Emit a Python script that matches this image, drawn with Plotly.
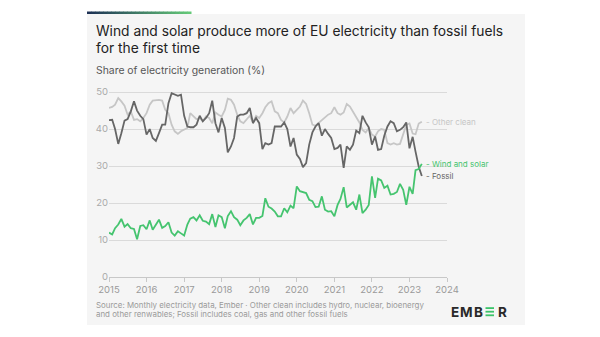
import pandas as pd
import plotly.graph_objects as go

# ---------------- data (monthly, Jan 2015 - May 2023, % of EU generation) ----------------
wind_solar = [
    12.0, 11.5, 13.2, 14.2, 15.7, 13.6, 14.3, 13.2, 13.0, 10.2, 13.8, 14.0,   # 2015
    12.9, 15.3, 12.8, 14.0, 15.5, 13.3, 13.8, 14.8, 12.0, 11.2, 12.4, 11.8,   # 2016
    11.2, 14.2, 15.8, 16.2, 15.3, 16.7, 15.2, 15.0, 14.3, 17.0, 13.5, 16.7,   # 2017
    16.2, 13.2, 16.5, 17.8, 16.2, 15.5, 14.0, 15.3, 16.0, 17.0, 14.2, 16.0,   # 2018
    16.0, 16.5, 21.3, 19.0, 18.5, 17.7, 16.4, 16.4, 18.6, 17.5, 19.3, 18.6,   # 2019
    24.5, 23.2, 22.9, 22.7, 20.9, 20.5, 18.9, 19.0, 21.8, 18.2, 17.7, 17.8,   # 2020
    16.4, 19.5, 21.1, 24.3, 18.8, 19.5, 20.2, 18.2, 22.3, 17.3, 18.2, 19.5,   # 2021
    27.2, 21.4, 26.6, 26.1, 24.1, 24.7, 22.3, 22.5, 23.0, 25.2, 23.6, 19.5,   # 2022
    24.4, 22.5, 28.9, 29.2, 30.6,                                             # 2023
]
fossil = [
    42.4, 42.5, 40.0, 36.0, 38.9, 42.3, 42.7, 44.8, 47.5, 45.0, 43.6, 42.7,
    38.5, 40.0, 37.6, 36.8, 38.9, 41.2, 41.2, 47.0, 49.7, 49.3, 49.0, 49.3,
    43.6, 40.7, 40.5, 40.5, 41.2, 43.6, 42.1, 43.0, 44.3, 47.7, 41.6, 39.1,
    43.0, 40.3, 33.7, 35.3, 37.6, 43.4, 43.9, 43.9, 44.3, 45.7, 41.6, 43.0,
    41.6, 34.6, 36.2, 35.8, 36.2, 40.7, 40.7, 40.7, 41.8, 40.0, 35.3, 37.6,
    33.1, 31.9, 29.7, 30.8, 35.8, 39.1, 40.7, 41.6, 38.2, 40.0, 38.7, 37.6,
    34.6, 34.9, 35.8, 29.5, 35.3, 34.4, 35.8, 39.6, 38.9, 43.6, 41.8, 40.5,
    35.8, 38.0, 34.4, 34.6, 38.2, 40.7, 42.1, 41.6, 39.4, 39.8, 40.5, 41.8,
    34.8, 37.9, 33.9, 29.8, 27.3,
]
other_clean = [
    45.7, 46.0, 46.6, 48.4, 47.5, 46.3, 43.9, 44.8, 42.5, 42.7, 42.1, 43.0,
    44.3, 46.6, 47.7, 47.9, 47.9, 47.7, 45.2, 44.3, 41.2, 39.4, 38.7, 39.4,
    39.8, 40.3, 44.3, 43.4, 42.7, 43.0, 42.1, 43.4, 43.0, 41.6, 44.5, 43.9,
    43.4, 45.2, 48.2, 47.9, 46.6, 43.9, 42.1, 41.6, 42.5, 43.6, 41.8, 43.6,
    43.0, 44.3, 45.9, 47.0, 47.5, 44.8, 44.3, 42.5, 41.8, 43.4, 45.7, 44.3,
    45.2, 46.1, 47.7, 46.8, 44.3, 41.2, 40.9, 41.6, 42.5, 43.0, 43.9, 44.3,
    45.9, 44.3, 43.9, 44.5, 46.8, 46.1, 44.8, 43.4, 41.8, 39.8, 39.1, 40.3,
    38.5, 38.0, 39.4, 40.0, 39.8, 36.2, 35.8, 36.2, 35.8, 36.0, 38.4, 41.1,
    41.5, 38.8, 38.6, 41.5, 42.0,
]
months = pd.date_range("2015-01-01", periods=len(wind_solar), freq="MS")
year_ticks = [str(y) for y in range(2015, 2025)]
y_ticks = [0, 10, 20, 30, 40, 50]

series = [
    ("Other clean", other_clean, "#c6c6c6"),
    ("Fossil", fossil, "#666666"),
    ("Wind and solar", wind_solar, "#45c46f"),
]

# ---------------- layout geometry ----------------
W, H = 600, 337
L, R, T, B = 109, 153, 91, 60
PW, PH = W - L - R, H - T - B
CARD = "#f5f5f5"
GREEN = "#3cc46a"

def px_x(px):
    return (px - L) / PW

def px_y(py):
    return (H - B - py) / PH

fig = go.Figure()
for name, vals, col in series:
    fig.add_trace(go.Scatter(x=months, y=vals, mode="lines", name=name,
                             line=dict(color=col, width=1.8), hoverinfo="skip"))

shapes = [dict(type="rect", xref="paper", yref="paper", layer="below",
               x0=px_x(87), x1=px_x(525), y0=px_y(325), y1=px_y(14),
               fillcolor=CARD, line=dict(width=0))]
# gradient accent bar
c0, c1 = (30, 50, 85), (100, 200, 120)
n = 26
for i in range(n):
    f = i / (n - 1)
    col = "rgb(%d,%d,%d)" % tuple(int(a + (b - a) * f) for a, b in zip(c0, c1))
    xa = 87 + (191 - 87) * i / n
    xb = 87 + (191 - 87) * (i + 1) / n + 0.5
    shapes.append(dict(type="rect", xref="paper", yref="paper", layer="below",
                       x0=px_x(xa), x1=px_x(xb), y0=px_y(14), y1=px_y(11.5),
                       fillcolor=col, line=dict(width=0)))
# logo: green bars replacing the second "E"
for yb in (307.2, 310.8, 314.4):
    shapes.append(dict(type="rect", xref="paper", yref="paper", layer="above",
                       x0=px_x(485.5), x1=px_x(494), y0=px_y(yb + 1.8), y1=px_y(yb),
                       fillcolor=GREEN, line=dict(width=0)))

FONT = "Inter"

def note(text, xp, yp, size, color):
    return dict(text=text, xref="paper", yref="paper",
                x=px_x(xp), y=px_y(yp), xanchor="left", yanchor="middle",
                showarrow=False, align="left",
                font=dict(family=FONT, size=size, color=color))

annotations = [
    note("Wind and solar produce more of EU electricity than fossil fuels", 94, 30.5, 13.8, "#222222"),
    note("for the first time", 94, 47.5, 13.8, "#222222"),
    note("Share of electricity generation (%)", 94, 70, 10.4, "#555555"),
    note("Source: Monthly electricity data, Ember · Other clean includes hydro, nuclear, bioenergy",
         94, 305.3, 7.9, "#9a9a9a"),
    note("and other renwables; Fossil includes coal, gas and other fossil fuels",
         94, 314.3, 7.9, "#9a9a9a"),
]
# logo letters
for ch, xc in (("E", 454.5), ("M", 466.3), ("B", 478.8), ("R", 502.3)):
    annotations.append(dict(text="<b>%s</b>" % ch, xref="paper", yref="paper",
                            x=px_x(xc), y=px_y(311.6), xanchor="center", yanchor="middle",
                            showarrow=False,
                            font=dict(family=FONT, size=13.5, color="#2a2a2a")))
for name, vals, col in series:
    annotations.append(dict(text="- " + name, x=months[-1], y=vals[-1], xref="x", yref="y",
                            xanchor="left", yanchor="middle", xshift=2, showarrow=False,
                            font=dict(family=FONT, size=8, color=col)))

fig.update_layout(
    width=W, height=H,
    margin=dict(l=L, r=R, t=T, b=B),
    paper_bgcolor="white", plot_bgcolor=CARD,
    showlegend=False,
    xaxis=dict(type="date", range=["2015-01-01", "2024-01-01"],
               tickvals=[f"{y}-01-01" for y in year_ticks], ticktext=year_ticks,
               showgrid=False, showline=True, linecolor="#c8c8c8", linewidth=1,
               ticks="outside", ticklen=4, tickcolor="#c8c8c8",
               tickfont=dict(family=FONT, size=9.5, color="#9a9a9a")),
    yaxis=dict(range=[0, 50.3], tickvals=y_ticks, showgrid=True, gridcolor="#dadada",
               gridwidth=1, zeroline=False, showline=False,
               tickfont=dict(family=FONT, size=9.5, color="#aaaaaa")),
    shapes=shapes, annotations=annotations,
)
fig.write_html("out.html")
